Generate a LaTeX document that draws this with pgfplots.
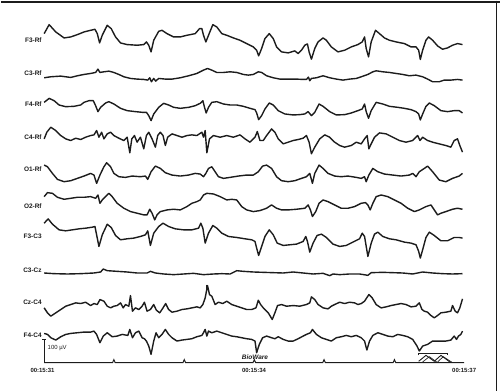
\documentclass[border=0pt]{standalone}
\usepackage{pgfplots}
\pgfplotsset{compat=1.18}
\usepackage{fontspec}
\setmainfont{Liberation Sans}
\definecolor{ink}{HTML}{1C1C1C}
\begin{document}
\begin{tikzpicture}
\begin{axis}[
  width=501pt, height=392pt, scale only axis,
  xmin=-120, xmax=1383, ymin=0, ymax=1176, y dir=reverse,
  hide axis, clip=false,
  trace/.style={ink, solid, line width=1.4pt, line join=round, no markers},
  thin/.style={ink, solid, no markers},
]
% F3-Rf
\addplot[trace] table[row sep=\\, y expr=\thisrowno{1}+54]{x y\\
10 45\\25 18\\45 40\\70 58\\90 55\\110 48\\130 40\\150 35\\163 32\\170 45\\177 73\\185 50\\200 20\\212 30\\225 55\\240 73\\260 78\\290 80\\310 78\\318 70\\325 80\\332 100\\340 65\\355 38\\365 35\\380 45\\400 55\\420 55\\440 50\\465 45\\478 30\\485 30\\490 50\\497 70\\505 50\\518 18\\530 25\\545 45\\560 50\\580 58\\600 65\\620 75\\640 85\\650 95\\656 112\\665 90\\675 60\\688 45\\700 60\\710 85\\725 100\\745 103\\765 97\\775 105\\785 95\\795 80\\803 76\\808 100\\815 122\\825 90\\835 70\\850 58\\860 65\\875 85\\895 100\\915 95\\935 85\\955 78\\968 70\\975 55\\980 90\\987 115\\995 70\\1008 35\\1020 45\\1035 58\\1050 65\\1070 70\\1095 75\\1115 85\\1130 85\\1138 95\\1143 123\\1150 95\\1160 65\\1168 55\\1180 65\\1195 82\\1210 92\\1225 88\\1240 80\\1255 75\\1270 78\\};
% C3-Rf
\addplot[trace] table[row sep=\\, y expr=\thisrowno{1}+54]{x y\\
10 178\\30 175\\60 173\\90 177\\110 172\\130 168\\150 165\\165 162\\172 152\\178 162\\190 160\\205 158\\220 162\\235 168\\250 175\\270 180\\290 182\\310 183\\322 185\\328 178\\333 190\\340 180\\346 188\\355 180\\375 182\\395 182\\420 178\\445 172\\470 165\\490 155\\502 150\\515 155\\530 162\\550 162\\570 160\\590 162\\610 168\\625 170\\640 168\\655 160\\665 162\\680 172\\700 178\\720 182\\745 182\\770 182\\790 183\\800 183\\806 176\\810 187\\815 180\\830 178\\850 172\\870 178\\890 182\\910 185\\930 182\\950 180\\965 175\\985 168\\1000 160\\1010 157\\1030 160\\1050 162\\1070 165\\1090 168\\1110 172\\1130 170\\1150 175\\1165 182\\1180 190\\1200 190\\1215 185\\1235 185\\1255 183\\1270 185\\};
% F4-Rf
\addplot[trace] table[row sep=\\, y expr=\thisrowno{1}+246]{x y\\
10 60\\25 48\\40 55\\55 68\\75 73\\100 72\\120 68\\130 60\\145 55\\158 55\\165 70\\172 88\\180 75\\195 62\\205 58\\220 65\\240 78\\260 85\\285 88\\305 90\\318 90\\325 100\\332 115\\340 95\\355 75\\370 63\\385 68\\400 75\\420 78\\445 75\\465 70\\480 63\\488 55\\493 75\\498 92\\505 75\\515 60\\530 58\\550 65\\570 68\\590 68\\610 72\\630 78\\645 82\\650 92\\656 112\\665 100\\675 80\\688 62\\700 68\\715 85\\735 95\\760 98\\780 97\\795 95\\805 88\\815 100\\825 90\\838 65\\850 72\\870 88\\890 98\\915 97\\935 92\\955 85\\968 80\\975 65\\980 88\\987 108\\995 85\\1010 60\\1030 65\\1050 72\\1075 75\\1095 78\\1115 82\\1130 88\\1138 95\\1143 113\\1150 95\\1160 72\\1170 62\\1185 70\\1205 85\\1225 88\\1245 85\\1260 85\\1270 92\\};
% C4-Rf
\addplot[trace] table[row sep=\\, y expr=\thisrowno{1}+246]{x y\\
10 170\\18 150\\30 135\\45 145\\60 160\\75 170\\90 175\\105 168\\120 172\\135 165\\150 160\\160 158\\168 145\\175 165\\183 150\\190 170\\200 155\\210 150\\220 160\\235 168\\250 175\\260 165\\268 212\\274 170\\282 160\\290 180\\300 165\\310 200\\318 160\\325 150\\335 170\\345 195\\352 160\\360 150\\368 160\\375 190\\382 165\\395 155\\410 160\\425 165\\440 160\\455 158\\470 160\\485 150\\490 165\\495 145\\500 212\\508 170\\520 160\\540 165\\560 160\\580 165\\600 158\\615 170\\630 180\\645 165\\652 148\\660 175\\670 175\\680 160\\695 140\\705 150\\715 170\\730 185\\745 180\\760 175\\775 172\\790 168\\800 160\\808 180\\815 215\\825 195\\840 170\\855 158\\870 165\\885 180\\900 190\\915 195\\935 190\\950 180\\965 185\\975 170\\983 160\\988 200\\995 185\\1005 165\\1020 152\\1040 155\\1060 165\\1080 175\\1100 180\\1120 175\\1135 160\\1142 175\\1150 165\\1165 175\\1180 180\\1200 185\\1220 190\\1235 195\\1245 175\\1255 170\\1262 190\\1270 210\\};
% O1-Rf
\addplot[trace] table[row sep=\\, y expr=\thisrowno{1}+450]{x y\\
10 45\\20 50\\35 70\\50 88\\70 95\\90 92\\110 85\\130 78\\150 70\\160 75\\168 100\\178 75\\190 50\\198 38\\210 50\\220 70\\235 80\\255 82\\275 78\\300 80\\315 78\\322 88\\332 65\\345 48\\360 55\\375 68\\395 75\\420 78\\445 75\\465 70\\480 72\\490 80\\497 70\\505 55\\515 50\\525 65\\535 80\\550 85\\570 82\\595 78\\620 75\\640 75\\655 65\\668 48\\680 45\\695 55\\710 80\\725 92\\745 95\\765 92\\785 85\\800 80\\810 70\\818 100\\825 70\\838 45\\850 55\\865 70\\885 78\\905 80\\925 78\\950 82\\965 85\\975 80\\980 95\\988 75\\1000 55\\1015 65\\1035 72\\1060 75\\1085 78\\1110 75\\1120 70\\1130 80\\1140 65\\1155 55\\1165 48\\1180 65\\1200 90\\1220 95\\1240 85\\1260 78\\1270 70\\};
% O2-Rf
\addplot[trace] table[row sep=\\, y expr=\thisrowno{1}+450]{x y\\
10 140\\20 128\\35 130\\50 142\\70 148\\90 145\\110 142\\130 142\\150 140\\165 145\\172 135\\178 160\\185 150\\195 140\\205 130\\215 140\\230 160\\250 175\\270 185\\290 190\\310 195\\320 195\\328 178\\335 190\\343 210\\350 195\\360 185\\380 180\\400 178\\420 180\\440 170\\455 160\\470 155\\480 150\\490 135\\500 130\\520 132\\540 140\\560 150\\575 148\\590 150\\605 170\\620 180\\640 185\\660 182\\680 175\\695 165\\710 175\\725 180\\745 180\\770 178\\795 175\\805 165\\812 180\\818 200\\828 185\\838 160\\850 150\\865 155\\885 165\\905 175\\925 175\\945 170\\965 160\\978 158\\985 165\\992 180\\1000 160\\1010 140\\1025 135\\1045 140\\1065 150\\1085 160\\1105 175\\1125 185\\1140 180\\1160 170\\1175 165\\1185 180\\1195 195\\1205 190\\1220 185\\1240 178\\1255 175\\1270 178\\};
% F3-C3
\addplot[trace] table[row sep=\\, y expr=\thisrowno{1}+645]{x y\\
10 25\\22 12\\35 28\\55 45\\75 48\\95 45\\115 42\\135 40\\155 37\\163 35\\168 60\\175 95\\185 60\\200 28\\212 38\\225 62\\240 75\\260 72\\280 70\\300 65\\315 60\\322 48\\330 92\\340 55\\355 35\\368 25\\385 35\\405 42\\430 45\\455 45\\475 40\\482 25\\488 40\\495 85\\505 55\\518 32\\530 40\\545 55\\565 65\\590 68\\615 72\\635 75\\645 80\\650 100\\656 122\\665 95\\675 65\\688 45\\700 60\\712 85\\730 92\\750 90\\770 88\\790 80\\798 65\\803 80\\810 112\\820 85\\832 62\\845 58\\860 68\\880 88\\900 95\\920 92\\940 82\\960 72\\968 55\\975 65\\985 125\\995 85\\1005 58\\1015 52\\1030 65\\1050 72\\1070 75\\1095 82\\1115 85\\1130 90\\1138 110\\1143 130\\1150 105\\1160 68\\1170 52\\1185 62\\1205 78\\1225 78\\1245 68\\1260 68\\1270 70\\};
% C3-Cz
\addplot[trace] table[row sep=\\, y expr=\thisrowno{1}+645]{x y\\
10 175\\40 177\\80 178\\120 177\\160 175\\180 172\\188 163\\200 168\\230 170\\260 172\\290 175\\320 175\\330 170\\345 175\\370 178\\400 180\\430 178\\460 176\\490 180\\520 178\\545 177\\570 178\\590 168\\610 170\\640 172\\670 173\\700 174\\730 175\\760 172\\790 175\\820 178\\850 176\\870 183\\880 178\\900 180\\930 178\\960 178\\985 182\\995 174\\1030 173\\1060 174\\1090 175\\1120 178\\1150 172\\1180 175\\1210 177\\1240 178\\1270 177\\};
% small artefact mark
\addplot[thin, line width=0.8pt] coordinates {(500,855) (500,870)};
% Cz-C4
\addplot[trace] table[row sep=\\, y expr=\thisrowno{1}+840]{x y\\
10 85\\20 100\\30 110\\45 100\\60 90\\75 80\\90 75\\105 70\\120 72\\135 68\\150 78\\160 72\\170 75\\178 60\\190 65\\200 80\\210 85\\220 80\\230 78\\240 70\\248 85\\255 75\\265 80\\270 48\\276 95\\285 85\\295 90\\305 80\\312 68\\320 95\\330 90\\340 75\\348 92\\358 100\\368 85\\376 72\\385 90\\395 98\\410 95\\425 90\\440 88\\455 85\\470 82\\480 85\\488 75\\495 55\\502 18\\508 45\\515 50\\525 75\\535 68\\548 72\\560 65\\575 75\\590 80\\605 85\\620 90\\635 90\\648 85\\655 62\\662 75\\670 85\\685 100\\697 120\\705 100\\713 78\\725 75\\740 80\\760 78\\780 80\\800 75\\810 70\\815 52\\825 60\\835 75\\850 85\\865 88\\875 80\\885 75\\900 68\\915 72\\930 68\\945 70\\955 75\\965 72\\975 65\\988 45\\998 55\\1010 75\\1025 85\\1040 82\\1055 78\\1070 75\\1085 72\\1100 75\\1115 82\\1130 80\\1140 70\\1148 90\\1155 95\\1165 98\\1175 108\\1185 115\\1195 108\\1205 100\\1220 98\\1235 95\\1240 78\\1248 95\\1255 100\\1262 85\\1270 58\\};
% F4-C4
\addplot[trace] table[row sep=\\, y expr=\thisrowno{1}+840]{x y\\
10 162\\20 165\\30 175\\45 182\\60 172\\75 165\\90 162\\110 160\\130 158\\150 158\\160 155\\168 165\\178 190\\188 170\\200 160\\215 172\\230 170\\245 165\\262 168\\268 150\\276 175\\285 160\\295 155\\305 175\\312 178\\318 185\\325 200\\332 225\\340 185\\347 160\\355 175\\365 165\\375 150\\385 165\\395 175\\410 185\\425 182\\440 180\\455 178\\470 172\\485 168\\490 160\\495 150\\500 170\\505 155\\515 160\\530 155\\545 160\\560 165\\575 170\\590 172\\605 175\\620 178\\635 180\\645 185\\650 220\\658 195\\668 175\\680 170\\695 175\\705 178\\715 172\\730 180\\745 185\\760 185\\775 178\\790 170\\800 165\\812 160\\818 150\\830 165\\845 175\\860 180\\875 185\\890 175\\905 172\\920 168\\935 172\\950 168\\965 175\\975 185\\982 212\\990 185\\1000 168\\1015 160\\1030 165\\1045 170\\1060 172\\1075 165\\1090 168\\1105 172\\1120 180\\1133 200\\1140 215\\1150 200\\1165 195\\1180 185\\1200 185\\1220 185\\1235 182\\1245 170\\1252 180\\1258 170\\1265 165\\1270 155\\};
% time axis with tick bumps
\addplot[thin, line width=1pt, line join=miter] coordinates {
(10,1090) (216,1090) (220,1081) (224,1090) (428,1090) (432,1081) (436,1090)
(639,1090) (643,1081) (647,1090) (849,1090) (853,1081) (857,1090)
(1061,1090) (1065,1081) (1069,1090) (1275,1090)};
% scale bar 100 uV
\addplot[thin, line width=1.1pt] coordinates {(10,1090) (10,1020)};
\addplot[thin, line width=1.1pt] coordinates {(4,1020) (16,1020)};
% calibration icon
\addplot[thin, line width=0.9pt] coordinates {(1138,1068) (1138,1062) (1226,1062) (1226,1068)};
\addplot[thin, line width=0.9pt] coordinates {(1138,1086) (1160,1068) (1185,1086) (1205,1068) (1232,1088)};
\addplot[thin, line width=0.7pt] coordinates {(1150,1088) (1170,1072) (1192,1088)};
\addplot[thin, line width=0.7pt] coordinates {(1195,1088) (1212,1072) (1240,1090)};
% frame
\draw[ink, line width=2pt] (axis cs:-120,3) -- (axis cs:1383,3);
\draw[ink, line width=1.5pt] (axis cs:1372,0) -- (axis cs:1372,1176);
\path (axis cs:-120,0) rectangle (axis cs:1383,1176);
% labels
\begin{scope}[every node/.style={anchor=east, inner sep=0pt, font=\fontsize{6.5}{7}\selectfont\bfseries, text=ink}]
\node at (axis cs:3,120) {F3-Rf};
\node at (axis cs:3,218) {C3-Rf};
\node at (axis cs:3,312) {F4-Rf};
\node at (axis cs:3,410) {C4-Rf};
\node at (axis cs:3,507) {O1-Rf};
\node at (axis cs:3,618) {O2-Rf};
\node at (axis cs:3,710) {F3-C3};
\node at (axis cs:3,813) {C3-Cz};
\node at (axis cs:3,907) {Cz-C4};
\node at (axis cs:3,1008) {F4-C4};
\end{scope}
\node[anchor=west, inner sep=0pt, font=\fontsize{6}{7}\selectfont, text=ink] at (axis cs:20,1045) {100 µV};
\node[inner sep=0pt, font=\fontsize{6.5}{7}\selectfont\bfseries\itshape, text=ink] at (axis cs:645,1075) {BioWare};
\begin{scope}[every node/.style={inner sep=0pt, font=\fontsize{6}{7}\selectfont\bfseries, text=ink}]
\node at (axis cs:5,1115) {00:15:31};
\node at (axis cs:642,1115) {00:15:34};
\node at (axis cs:1275,1115) {00:15:37};
\end{scope}
\end{axis}
\end{tikzpicture}
\end{document}
